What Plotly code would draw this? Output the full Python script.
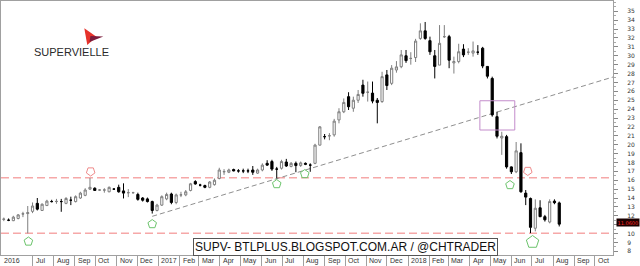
import pandas as pd
import plotly.graph_objects as go

# ---------------- data (weekly bars, SUPV) ----------------
first_week = "2016-05-20"
opens = [11.6, 11.5, 11.45, 11.7, 12.2, 12.25, 12.5, 13.4, 12.6, 13.15,
         13.6, 13.6, 13.6, 13.4, 13.75, 13.6, 14.0, 14.3, 15.0, 15.1,
         14.9, 14.9, 14.7, 15.0, 15.2, 14.8, 14.6, 14.6, 14.4, 14.0,
         13.9, 13.6, 12.6, 13.2, 13.9, 14.45, 13.5, 14.35, 14.35, 14.85,
         15.85, 15.45, 15.4, 15.2, 15.5, 16.2, 16.95, 16.9, 17.2, 17.05,
         17.05, 17.05, 17.15, 16.8, 17.15, 17.9, 18.1, 17.25, 17.35, 18.05,
         17.55, 17.9, 17.65, 17.9, 17.7, 17.9, 19.95, 20.9, 21.0, 21.1,
         22.78, 23.7, 25.4, 24.1, 25.0, 26.7, 25.9, 25.8, 25.0, 24.85,
         27.85, 26.9, 28.4, 28.77, 30.0, 29.7, 29.8, 31.95, 32.8, 31.7,
         30.0, 28.95, 32.15, 32.15, 29.2, 29.35, 30.75, 30.4, 30.3, 30.4,
         30.85, 28.8, 27.45, 23.15, 20.75, 20.9, 17.5, 16.95, 19.1, 14.55,
         13.95, 10.6, 12.9, 11.9, 11.3, 13.65, 13.45]
highs = [11.8, 11.7, 12.0, 12.2, 12.45, 13.1, 13.5, 14.0, 13.4, 13.8,
         13.8, 13.9, 13.9, 14.1, 14.15, 14.3, 14.7, 15.1, 16.25, 15.2,
         15.0, 15.1, 15.3, 15.1, 15.5, 15.65, 15.0, 14.7, 14.6, 14.1,
         14.05, 13.7, 13.35, 14.3, 14.6, 14.6, 14.5, 14.7, 14.9, 15.7,
         16.0, 15.6, 15.5, 15.9, 16.2, 17.4, 17.25, 17.3, 17.3, 17.25,
         17.3, 17.3, 17.6, 17.3, 17.9, 18.25, 18.3, 17.5, 18.3, 18.4,
         18.05, 18.1, 18.1, 18.0, 17.9, 20.1, 22.1, 21.2, 21.3, 22.9,
         24.1, 25.2, 25.9, 25.4, 26.15, 27.3, 27.1, 27.1, 25.25, 28.2,
         28.4, 28.95, 29.4, 30.65, 30.65, 30.4, 31.9, 33.65, 33.8, 32.15,
         30.65, 33.45, 33.45, 32.35, 29.9, 31.35, 31.3, 30.85, 31.6, 31.2,
         31.0, 28.85, 27.65, 23.7, 21.45, 21.1, 17.55, 20.3, 20.15, 14.9,
         14.05, 13.85, 13.75, 12.1, 13.85, 13.85, 13.6]
lows = [11.4, 11.4, 11.4, 11.6, 11.85, 10.03, 12.3, 12.6, 12.55, 13.1,
        13.5, 13.35, 12.45, 13.3, 13.2, 13.5, 13.9, 14.2, 14.9, 14.8,
        14.8, 14.6, 14.65, 14.9, 14.6, 13.95, 14.1, 14.5, 13.7, 13.6,
        13.5, 12.25, 12.5, 13.1, 13.75, 13.3, 13.3, 14.1, 14.2, 14.75,
        15.5, 15.3, 15.1, 15.1, 15.4, 16.1, 16.6, 16.8, 17.0, 16.85,
        16.8, 16.8, 16.6, 16.7, 17.0, 17.6, 17.05, 16.2, 17.2, 17.5,
        17.45, 16.9, 17.5, 17.7, 16.95, 17.8, 19.9, 20.6, 20.5, 20.9,
        22.4, 23.55, 23.9, 23.7, 24.7, 25.4, 24.85, 24.65, 22.4, 24.7,
        26.15, 26.7, 28.1, 28.6, 29.2, 29.0, 29.3, 31.8, 31.8, 30.1,
        27.45, 28.95, 32.0, 28.6, 28.0, 29.15, 29.85, 30.1, 29.9, 30.1,
        28.6, 27.45, 23.15, 20.7, 18.85, 17.3, 16.7, 16.8, 14.6, 13.2,
        10.05, 10.25, 11.85, 11.35, 11.15, 13.3, 10.8]
closes = [11.62, 11.5, 11.85, 12.1, 12.22, 12.35, 13.1, 12.75, 13.3, 13.65,
          13.6, 13.62, 13.6, 13.95, 13.75, 14.15, 14.55, 14.9, 15.2, 14.85,
          14.9, 14.9, 15.2, 15.0, 14.7, 14.55, 14.6, 14.6, 13.85, 13.75,
          13.6, 12.6, 13.2, 14.15, 14.4, 13.5, 14.35, 14.35, 14.7, 15.6,
          15.58, 15.45, 15.2, 15.8, 16.0, 17.15, 16.97, 17.15, 17.05, 17.05,
          17.05, 17.05, 16.9, 17.15, 17.7, 17.7, 17.25, 17.25, 18.1, 17.6,
          17.9, 17.65, 17.95, 17.8, 17.7, 19.95, 22.0, 20.9, 21.0, 22.65,
          23.7, 24.75, 24.27, 25.0, 25.65, 25.78, 25.9, 24.9, 24.75, 27.65,
          26.65, 28.6, 28.75, 30.1, 29.45, 29.7, 31.65, 32.8, 31.95, 30.45,
          28.8, 31.4, 32.15, 29.5, 29.35, 30.45, 30.1, 30.4, 30.55, 30.4,
          28.85, 27.7, 23.35, 20.95, 20.95, 17.5, 16.95, 19.3, 14.7, 14.1,
          10.7, 12.85, 11.9, 11.55, 13.6, 13.47, 11.06]

last_price_text = "11.0600"

# horizontal support / resistance levels
levels = [16.28, 10.03]
# trendline anchor points (date, value)
trend_dates = ["2016-12-23", "2018-10-27 14:00"]
trend_vals = [11.94, 27.61]
# highlight box
box_dates = ["2018-04-16", "2018-06-06"]
box_vals = [21.65, 24.94]

# signal arrows
up_dates = ["2016-06-25", "2016-12-23", "2017-06-23", "2017-08-03", "2018-05-30"]
up_vals = [9.11, 11.07, 15.57, 16.70, 15.46]
big_up_dates = ["2018-07-02"]
big_up_vals = [9.05]
down_dates = ["2016-09-24", "2018-06-25"]
down_vals = [16.98, 17.04]

# axis ticks
month_starts = pd.date_range("2016-07-01", "2018-10-01", freq="MS")
month_labels = ["Jul", "Aug", "Sep", "Oct", "Nov", "Dec",
                "2017", "Feb", "Mar", "Apr", "May", "Jun", "Jul", "Aug", "Sep", "Oct", "Nov", "Dec",
                "2018", "Feb", "Mar", "Apr", "May", "Jun", "Jul", "Aug", "Sep", "Oct"]
first_label = "2016"
y_ticks = list(range(8, 36))
# the 11 label sits under the last-price tag
y_tick_text = ["" if v == 11 else str(v) for v in y_ticks]

x_range = ["2016-05-15 22:00", "2018-10-27 14:00"]
y_range = [7.59, 36.16]

dates = pd.date_range(first_week, periods=len(opens), freq="7D")

# ---------------- figure ----------------
W, H = 640, 266
ML, MR, MT, MB = 1, 27, 1, 11
PW, PH = W - ML - MR, H - MT - MB


def px2paper(px, py):
    return (px - ML) / PW, (H - MB - py) / PH


fig = go.Figure()
fig.add_trace(go.Candlestick(
    x=dates, open=opens, high=highs, low=lows, close=closes,
    increasing=dict(line=dict(color="#7f7f7f", width=1), fillcolor="#ffffff"),
    decreasing=dict(line=dict(color="#000000", width=1), fillcolor="#000000"),
    whiskerwidth=0, showlegend=False, hoverinfo="skip",
))

fig.add_trace(go.Scatter(
    x=up_dates, y=up_vals, mode="markers", showlegend=False, hoverinfo="skip",
    marker=dict(symbol="pentagon-open", size=9, color="#6cc46c", line=dict(width=1)),
))
fig.add_trace(go.Scatter(
    x=big_up_dates, y=big_up_vals, mode="markers", showlegend=False, hoverinfo="skip",
    marker=dict(symbol="pentagon-open", size=13, color="#6cc46c", line=dict(width=1)),
))
fig.add_trace(go.Scatter(
    x=down_dates, y=down_vals, mode="markers", showlegend=False, hoverinfo="skip",
    marker=dict(symbol="pentagon-open", size=9, angle=180, color="#ef8a8a", line=dict(width=1)),
))

shapes = []
for lv in levels:
    shapes.append(dict(type="line", xref="paper", x0=0, x1=1, yref="y", y0=lv, y1=lv,
                       line=dict(color="#f6a8a8", width=1.5, dash="8px,4px"), layer="below"))
shapes.append(dict(type="line", xref="x", yref="y",
                   x0=trend_dates[0], x1=trend_dates[1], y0=trend_vals[0], y1=trend_vals[1],
                   line=dict(color="#8f8f8f", width=1, dash="5px,3px"), layer="below"))
shapes.append(dict(type="rect", xref="x", yref="y",
                   x0=box_dates[0], x1=box_dates[1], y0=box_vals[0], y1=box_vals[1],
                   line=dict(color="#c38ccb", width=1), fillcolor="rgba(0,0,0,0)"))


def poly(points):
    pp = [px2paper(x, y) for x, y in points]
    return "M " + " L ".join(f"{a:.4f},{b:.4f}" for a, b in pp) + " Z"


# logo mark
shapes.append(dict(type="path", xref="paper", yref="paper",
                   path=poly([(84.3, 28.3), (96.5, 36.8), (87.3, 45.0)]),
                   fillcolor="#e6322b", line=dict(width=0)))
shapes.append(dict(type="path", xref="paper", yref="paper",
                   path=poly([(90.5, 36.0), (103.3, 36.4), (89.5, 42.0)]),
                   fillcolor="#7b1c3c", line=dict(width=0)))

annotations = []
lx, ly = px2paper(32, 52)
annotations.append(dict(text="SUPERVIELLE", xref="paper", yref="paper", x=lx, y=ly,
                        xanchor="left", yanchor="middle", showarrow=False,
                        font=dict(family="Liberation Sans, Arial, sans-serif", size=11, color="#2a2a2a")))
bx, by = px2paper(345.9, 246.7)
annotations.append(dict(text="SUPV- BTLPLUS.BLOGSPOT.COM.AR / @CHTRADER", xref="paper", yref="paper",
                        x=bx, y=by, xanchor="center", yanchor="middle", showarrow=False,
                        bgcolor="#ffffff", bordercolor="#555555", borderwidth=1, borderpad=1,
                        font=dict(family="Liberation Sans Narrow, Arial Narrow, Liberation Sans, sans-serif",
                                  size=12, color="#111111")))
annotations.append(dict(text=first_label, xref="x", yref="paper", x=dates[0], y=0,
                        xanchor="left", yanchor="top", xshift=-2, showarrow=False,
                        font=dict(family="Liberation Sans, Arial, sans-serif", size=7, color="#333333")))
for d, lab in zip(month_starts, month_labels):
    annotations.append(dict(text=lab, xref="x", yref="paper", x=d, y=0,
                            xanchor="left", yanchor="top", xshift=1, showarrow=False,
                            font=dict(family="Liberation Sans, Arial, sans-serif", size=7, color="#333333")))
annotations.append(dict(text=last_price_text, xref="paper", yref="y", x=1, y=closes[-1],
                        xanchor="left", yanchor="middle", xshift=3, yshift=2, showarrow=False,
                        bgcolor="#1a0000", borderpad=0.5,
                        font=dict(family="DejaVu Sans, sans-serif", size=5, color="#ff2a2a")))

fig.update_layout(
    width=W, height=H,
    margin=dict(l=ML, r=MR, t=MT, b=MB, pad=0),
    paper_bgcolor="#ffffff", plot_bgcolor="#ffffff",
    showlegend=False, boxgap=0.35,
    shapes=shapes, annotations=annotations,
    xaxis=dict(type="date", range=x_range, rangeslider=dict(visible=False),
               tickvals=list(month_starts), showticklabels=False,
               ticks="outside", ticklen=10, tickcolor="#a0a0a0", tickwidth=1,
               showgrid=False, zeroline=False,
               showline=True, linecolor="#a0a0a0", linewidth=1, mirror=True),
    yaxis=dict(side="right", range=y_range, tickvals=y_ticks, ticktext=y_tick_text,
               ticks="outside", ticklen=4, tickcolor="#888888", tickwidth=1,
               ticklabelstandoff=8,
               minor=dict(ticks="outside", ticklen=2, dtick=0.5, tick0=0, tickcolor="#aaaaaa"),
               tickfont=dict(family="DejaVu Sans, sans-serif", size=6, color="#333333"),
               showgrid=False, zeroline=False,
               showline=True, linecolor="#a0a0a0", linewidth=1, mirror=True),
)

fig.write_html("out.html")
